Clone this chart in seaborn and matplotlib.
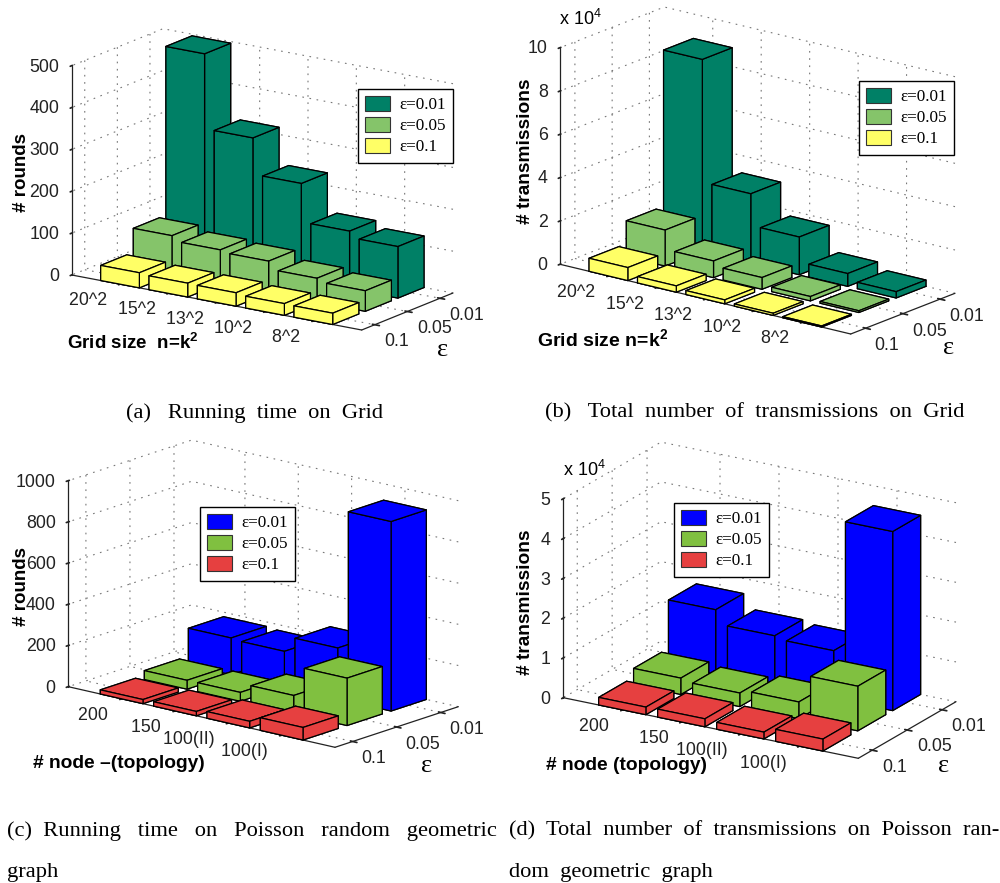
import numpy as np
import matplotlib
matplotlib.use("Agg")
import matplotlib.pyplot as plt
from matplotlib.patches import Patch
from mpl_toolkits.mplot3d import proj3d
import seaborn as sns

# --- DATA ---
EPS_LABELS = ["0.1", "0.05", "0.01"]
LEGEND_LABELS = ["\u03b5=0.01", "\u03b5=0.05", "\u03b5=0.1"]

GRID_SIZES = ["20^2", "15^2", "13^2", "10^2", "8^2"]
NODE_SIZES = ["200", "150", "100(II)", "100(I)"]

grid_rounds_001 = [496, 317, 230, 138, 123]
grid_rounds_005 = [93, 81, 76, 57, 49]
grid_rounds_01 = [36, 33, 32, 28, 27]

grid_tx_001 = [8.87, 3.2, 1.74, 0.59, 0.29]
grid_tx_005 = [1.66, 0.77, 0.54, 0.2, 0.08]
grid_tx_01 = [0.6, 0.29, 0.18, 0.1, 0.05]

poisson_rounds_001 = [178, 172, 247, 920]
poisson_rounds_005 = [43, 43, 87, 230]
poisson_rounds_01 = [20, 21, 32, 61]

poisson_tx_001 = [1.62, 1.27, 1.2, 4.5]
poisson_tx_005 = [0.41, 0.34, 0.42, 1.12]
poisson_tx_01 = [0.19, 0.2, 0.17, 0.3]

GRID_COLORS = sns.color_palette(["#008066", "#85c46a", "#ffff66"])
POISSON_COLORS = sns.color_palette(["#0000ff", "#80c040", "#e64040"])

W, H = 1000, 883
BAR_WIDTH = 0.8
TICK_FONT = 12.8
SERIF = "Liberation Serif"

sns.set_theme(style="white", rc={
    "axes.edgecolor": "#222222",
    "axes.linewidth": 0.9,
    "grid.color": "#777777",
    "grid.linestyle": (0, (1.5, 5)),
    "grid.linewidth": 0.8,
    "xtick.color": "#222222",
    "ytick.color": "#222222",
    "text.color": "black",
    "mathtext.fontset": "custom",
    "mathtext.rm": "Liberation Sans",
    "mathtext.bf": "Liberation Sans:bold",
})
plt.rcParams["font.family"] = ["Liberation Sans", "DejaVu Sans"]


def place_axes(fig, left, front, right, z_px, zmax, n_cat):
    """Make a 3D axes whose floor corners land on the given image pixels."""
    left, front, right = map(np.array, (left, front, right))
    xv = front - left
    yv = right - front
    r1 = xv[1] / xv[0]
    r2 = -yv[1] / yv[0]
    sin_e = np.sqrt(r1 * r2)
    alpha = np.arctan(r2 / sin_e)
    elev = np.degrees(np.arcsin(sin_e))
    lx = xv[0] / np.sin(alpha)
    ly = yv[0] / np.cos(alpha)
    lz = z_px / np.cos(np.arcsin(sin_e))

    ax = fig.add_axes([0, 0, 1, W / H], projection="3d", computed_zorder=False)
    ax.view_init(elev=elev, azim=-np.degrees(alpha))
    ax.set_proj_type("ortho")
    ax.set_box_aspect((lx, ly, lz))
    ax.set_xlim(0, n_cat + 1, view_margin=0)
    ax.set_ylim(0.6, 3.4, view_margin=0)
    ax.set_zlim(0, zmax, view_margin=0)

    # measure where the box lands, then scale the axes to the wanted size
    ax.apply_aspect()
    M = ax.get_proj()
    px, py, _ = proj3d.proj_transform(
        np.array([0, n_cat + 1.0]), np.array([0.6, 0.6]), np.array([0.0, 0.0]), M)
    pts = ax.transData.transform(np.column_stack([px, py]))
    ratio = xv[0] / (pts[1, 0] - pts[0, 0])
    x0 = left[0] - pts[0, 0] * ratio
    y0 = (H - left[1]) - pts[0, 1] * ratio
    ax.set_position([x0 / W, y0 / H, W * ratio / W, W * ratio / H])
    ax.patch.set_visible(False)
    return ax


def draw_panel(ax, series, colors, categories, z_ticks):
    # back to front, the depth is fixed by hand
    order = 0
    for row in (0, 1, 2):
        for i, v in enumerate(series[row]):
            ax.bar3d(i + 1 - BAR_WIDTH / 2, 3 - row - BAR_WIDTH / 2, 0,
                     BAR_WIDTH, BAR_WIDTH, v, color=colors[row], shade=False,
                     edgecolor="black", linewidth=0.9, zorder=10 + order)
            order += 1

    ax.set_xticks(np.arange(1, len(categories) + 1))
    # two trailing spaces push the right aligned labels a bit left
    ax.set_xticklabels([c + "  " for c in categories], fontsize=TICK_FONT, ha="right")
    ax.set_yticks([1, 2, 3])
    ax.set_yticklabels(EPS_LABELS, fontsize=TICK_FONT, ha="left")
    ax.set_zticks(z_ticks)
    ax.set_zticklabels([str(t) for t in z_ticks], fontsize=TICK_FONT, ha="right", va="center_baseline")
    ax.tick_params(axis="x", pad=-2.7)
    ax.tick_params(axis="y", pad=-2.7)
    ax.tick_params(axis="z", pad=-2.7)
    ax.zaxis.set_ticks_position("lower")
    for axis in (ax.xaxis, ax.yaxis, ax.zaxis):
        axis.pane.set_facecolor("white")
        axis.pane.set_edgecolor("none")
    ax.grid(True)


def add_legend(fig, colors, x, y):
    handles = [Patch(facecolor=c, edgecolor="#333333", linewidth=0.8) for c in colors]
    leg = fig.legend(handles, LEGEND_LABELS, loc="upper left",
                     bbox_to_anchor=(x / W, 1 - y / H), bbox_transform=fig.transFigure,
                     prop={"family": SERIF, "size": 12.3},
                     frameon=True, framealpha=1, fancybox=False, edgecolor="black",
                     handlelength=1.45, handleheight=0.95, handletextpad=0.55,
                     labelspacing=0.22, borderpad=0.42, borderaxespad=0)
    leg.get_frame().set_linewidth(1.0)


def label(fig, x, y, s, **kw):
    fig.text(x / W, 1 - y / H, s, ha=kw.pop("ha", "left"), va=kw.pop("va", "center"), **kw)


def caption(fig, x, y, s):
    label(fig, x, y, s, family=SERIF, fontsize=16.2)


fig = plt.figure(figsize=(W / 100, H / 100), dpi=100)

# (a)
ax_a = place_axes(fig, (71.7, 275), (361.7, 330), (453, 293), 209.3, 500, 5)
draw_panel(ax_a, [grid_rounds_001, grid_rounds_005, grid_rounds_01], GRID_COLORS,
           GRID_SIZES, [0, 100, 200, 300, 400, 500])
add_legend(fig, GRID_COLORS, 358, 89)
label(fig, 22, 172, "# rounds", rotation=90, fontweight="bold", fontsize=13.5, ha="center")
label(fig, 67, 343, r"Grid size  n=k$\mathbf{^2}$", fontweight="bold", fontsize=13.5)
label(fig, 437, 350, "\u03b5", family=SERIF, fontsize=19)
caption(fig, 126, 413, "(a)   Running  time  on  Grid")

# (b)
ax_b = place_axes(fig, (560, 264.3), (850.7, 334), (955, 293.3), 216.6, 10, 5)
draw_panel(ax_b, [grid_tx_001, grid_tx_005, grid_tx_01], GRID_COLORS,
           GRID_SIZES, [0, 2, 4, 6, 8, 10])
add_legend(fig, GRID_COLORS, 859, 81)
label(fig, 525, 151, "# transmissions", rotation=90, fontweight="bold", fontsize=13.8, ha="center")
label(fig, 559, 19, r"x 10$^{\mathregular{4}}$", fontsize=13)
label(fig, 537, 339, r"Grid size n=k$\mathbf{^2}$", fontweight="bold", fontsize=14)
label(fig, 943, 348, "\u03b5", family=SERIF, fontsize=19)
caption(fig, 545, 413, "(b)   Total  number  of  transmissions  on  Grid")

# (c)
ax_c = place_axes(fig, (68.3, 686.7), (335, 747.3), (458.3, 706.7), 206, 1000, 4)
draw_panel(ax_c, [poisson_rounds_001, poisson_rounds_005, poisson_rounds_01], POISSON_COLORS,
           NODE_SIZES, [0, 200, 400, 600, 800, 1000])
add_legend(fig, POISSON_COLORS, 200, 507)
label(fig, 22, 586, "# rounds", rotation=90, fontweight="bold", fontsize=13.5, ha="center")
label(fig, 33, 764, "# node \u2013(topology)", fontweight="bold", fontsize=13.8)
label(fig, 421, 766, "\u03b5", family=SERIF, fontsize=19)
caption(fig, 7, 831, "(c)  Running   time   on   Poisson   random   geometric")
caption(fig, 7, 873, "graph")

# (d)
ax_d = place_axes(fig, (563.3, 697.7), (858.3, 758.3), (956, 701.7), 199, 5, 4)
draw_panel(ax_d, [poisson_tx_001, poisson_tx_005, poisson_tx_01], POISSON_COLORS,
           NODE_SIZES, [0, 1, 2, 3, 4, 5])
add_legend(fig, POISSON_COLORS, 674, 503)
label(fig, 526, 602, "# transmissions", rotation=90, fontweight="bold", fontsize=13.8, ha="center")
label(fig, 563, 470, r"x 10$^{\mathregular{4}}$", fontsize=13)
label(fig, 546, 765, "# node (topology)", fontweight="bold", fontsize=13.8)
label(fig, 938, 766, "\u03b5", family=SERIF, fontsize=19)
caption(fig, 509, 831, "(d)  Total  number  of  transmissions  on  Poisson  ran-")
caption(fig, 509, 873, "dom  geometric  graph")

fig.savefig("out.png", dpi=100)
